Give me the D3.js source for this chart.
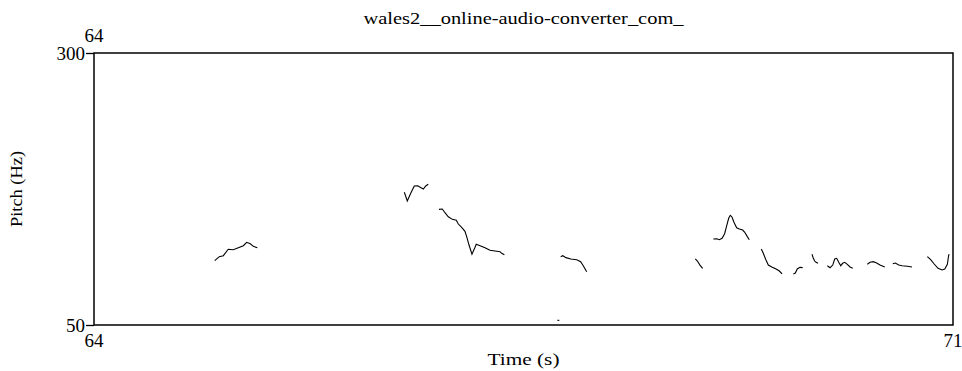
<!DOCTYPE html>
<html>
<head>
<meta charset="utf-8">
<script src="https://cdn.jsdelivr.net/npm/d3@7"></script>
<style>
  body { margin: 0; background: #fff; }
  text { font-family: "Liberation Serif", "Times New Roman", serif; fill: #000; }
</style>
</head>
<body>
<div class="chart"></div>
<script>
// pitch contour segments, [time (s), pitch (Hz)]
const seg1 = [[64.984,109.1],[65.021,112.8],[65.054,113.7],[65.094,119.6],[65.135,119.2],[65.176,121.0],
              [65.217,122.9],[65.244,126.0],[65.274,124.6],[65.298,122.3],[65.331,121.0]]
const seg2 = [[66.529,172.0],[66.553,164.0],[66.581,171.0],[66.610,177.8],[66.638,178.0],[66.665,176.2],
              [66.684,175.0],[66.703,177.8],[66.724,179.3]]
const seg3 = [[66.811,156.3],[66.838,156.6],[66.860,153.2],[66.887,149.5],[66.920,147.1],[66.952,146.2],
              [66.969,142.8],[66.996,139.8],[67.023,136.1],[67.037,131.2],[67.056,123.5],[67.080,115.0],
              [67.105,121.4],[67.115,124.2],[67.146,122.9],[67.186,121.0],[67.227,118.7],[67.268,118.0],
              [67.309,117.4],[67.322,115.9],[67.344,114.6]]
const seg4 = [[67.803,112.8],[67.820,113.7],[67.846,111.9],[67.885,110.7],[67.934,110.0],[67.966,108.2],
              [67.987,104.5],[68.015,99.0]]
const seg5 = [[67.776,54.3],[67.792,54.3]]
const seg6 = [[68.900,110.7],[68.917,108.8],[68.938,105.1],[68.960,102.1]]
const seg7 = [[69.047,129.0],[69.075,129.3],[69.096,128.4],[69.118,129.7],[69.139,133.9],[69.156,141.3],
              [69.172,148.1],[69.185,150.8],[69.199,149.3],[69.215,144.4],[69.237,139.4],[69.259,138.2],
              [69.286,137.3],[69.303,135.2],[69.324,131.2],[69.340,128.4]]
const seg8 = [[69.438,119.9],[69.454,115.9],[69.476,109.7],[69.495,105.1],[69.523,103.3],[69.558,101.5],
              [69.585,99.6],[69.607,96.9]]
const seg9 = [[69.699,96.9],[69.715,97.8],[69.731,101.5],[69.753,103.0],[69.775,102.7]]
const seg10 = [[69.851,115.0],[69.862,111.3],[69.873,108.8],[69.884,107.6],[69.900,106.7]]
const seg11 = [[69.976,104.5],[69.998,102.7],[70.020,105.1],[70.036,110.7],[70.052,111.3],[70.069,107.6],
               [70.085,104.5],[70.101,106.7],[70.118,107.6],[70.139,105.8],[70.161,103.3],[70.183,102.1]]
const seg12 = [[70.302,105.8],[70.324,107.6],[70.351,108.2],[70.378,107.0],[70.405,105.1],[70.444,103.3]]
const seg13 = [[70.509,106.3],[70.530,107.0],[70.558,105.1],[70.585,104.5],[70.628,104.0],[70.666,103.3]]
const seg14 = [[70.791,112.8],[70.818,110.0],[70.845,106.3],[70.878,102.1],[70.911,100.6],[70.933,101.5],
               [70.954,105.8],[70.965,114.3],[70.970,115.0]]
const segments = [seg1,seg2,seg3,seg4,seg5,seg6,seg7,seg8,seg9,seg10,seg11,seg12,seg13,seg14]

const timeRange = [64, 71]
const pitchRange = [50, 300]
const title = "wales2__online-audio-converter_com_"

const svg = d3.select(".chart").append("svg").attr("width",962).attr("height",371)
const margin = {top:53,right:9,bottom:46,left:94}
const width = 962 - margin.left - margin.right
const height = 371 - margin.top - margin.bottom

const x = d3.scaleLinear().domain(timeRange).range([margin.left, margin.left + width])
const y = d3.scaleLinear().domain(pitchRange).range([margin.top + height, margin.top])

// contours
const line = d3.line().x(d=>x(d[0])).y(d=>y(d[1]))
svg.selectAll("path.pitch").data(segments).enter().append("path").attr("class","pitch")
   .attr("d", line).attr("fill","none").attr("stroke","#000").attr("stroke-width",1.1)

// frame
svg.append("rect").attr("x",x(timeRange[0])).attr("y",y(pitchRange[1]))
   .attr("width",x(timeRange[1])-x(timeRange[0])).attr("height",y(pitchRange[0])-y(pitchRange[1]))
   .attr("fill","none").attr("stroke","#000").attr("stroke-width",1.5)

// left ticks, only the extremes like praat
const yAxis = d3.axisLeft(y).tickValues(pitchRange).tickSize(8).tickPadding(1)
const gy = svg.append("g").attr("transform",`translate(${margin.left},0)`).call(yAxis)
gy.select(".domain").remove()
gy.selectAll("line").attr("stroke","#000").attr("stroke-width",1.3)
gy.selectAll("text").style("font-size","19px").style("font-family","Liberation Serif")

// time labels at the bottom corners and the start time above
svg.selectAll("text.tlab").data(timeRange).enter().append("text").attr("class","tlab")
   .attr("x", d=>x(d)).attr("y", 347).attr("text-anchor","middle").style("font-size","19px").text(d=>d)
svg.append("text").attr("x", x(timeRange[0])).attr("y", 42).attr("text-anchor","middle")
   .style("font-size","19px").text(timeRange[0])

// titles
svg.append("text").attr("x", margin.left + width/2).attr("y", 24).attr("text-anchor","middle")
   .attr("textLength",320).attr("lengthAdjust","spacingAndGlyphs")
   .style("font-size","17px").text(title)
svg.append("text").attr("x", margin.left + width/2).attr("y", 365).attr("text-anchor","middle")
   .attr("textLength",72).attr("lengthAdjust","spacingAndGlyphs")
   .style("font-size","17px").text("Time (s)")
svg.append("text").attr("transform",`translate(22,${margin.top + height/2}) rotate(-90)`)
   .attr("text-anchor","middle").attr("textLength",76).attr("lengthAdjust","spacingAndGlyphs")
   .style("font-size","17px").text("Pitch (Hz)")
</script>
</body>
</html>
